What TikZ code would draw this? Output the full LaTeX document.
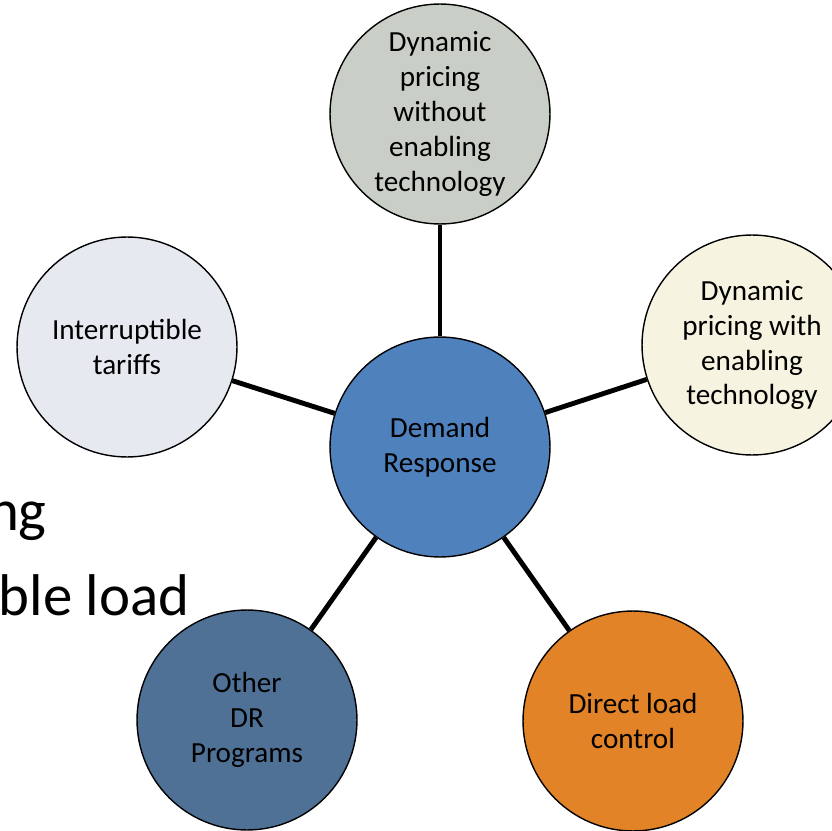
\documentclass[tikz,border=0pt]{standalone}
\usepackage{fontspec}
\setmainfont{Carlito}
\usepackage{xcolor}
\definecolor{drblue}{RGB}{79, 129, 189}
\definecolor{sagegray}{RGB}{201, 207, 199}
\definecolor{creamy}{RGB}{246, 243, 224}
\definecolor{paleblue}{RGB}{230, 233, 239}
\definecolor{slateblue}{RGB}{80, 113, 150}
\definecolor{dlcorange}{RGB}{226, 131, 39}
\usepackage{tikz}
\usetikzlibrary{positioning}

\begin{document}
\begin{tikzpicture}[x=0.02cm, y=-0.02cm,
        bubble/.style={circle, draw=black, line width=0.8pt, minimum size=4.4cm, inner sep=0pt, align=center, font=\fontsize{16.6}{19.9}\selectfont, execute at begin node={\rule{0pt}{0.68cm}}},
        slidetext/.style={inner sep=0pt, font=\fontsize{33.5}{40}\selectfont},
        spoke/.style={draw=black, line width=2.8pt}]

        \useasboundingbox (0,0) rectangle (832,831);

        % leftover slide text behind the diagram
        \node [slidetext, anchor=base east] (ngtext) at (47,530) {ng};
        \node [slidetext, anchor=base east] (loadtext) at (190,615) {ble load};

        % the hub and its programs
        \node [bubble, fill=drblue] (dr) at (440,447) {Demand\\Response};
        \node [bubble, fill=sagegray] (dynwo) at (440,114) {Dynamic\\pricing\\without\\enabling\\technology};
        \node [bubble, fill=creamy] (dynwith) at (752,345) {Dynamic\\pricing with\\enabling\\technology};
        \node [bubble, fill=paleblue] (interr) at (127,347) {Interruptible\\tariffs};
        \node [bubble, fill=slateblue] (other) at (247,720) {Other\\DR\\Programs};
        \node [bubble, fill=dlcorange] (dlc) at (633,721) {Direct load\\control};

        \path [spoke] (dr) -- (dynwo);
        \path [spoke] (dr) -- (dynwith);
        \path [spoke] (dr) -- (interr);
        \path [spoke] (dr) -- (other);
        \path [spoke] (dr) -- (dlc);
    \end{tikzpicture}
\end{document}
